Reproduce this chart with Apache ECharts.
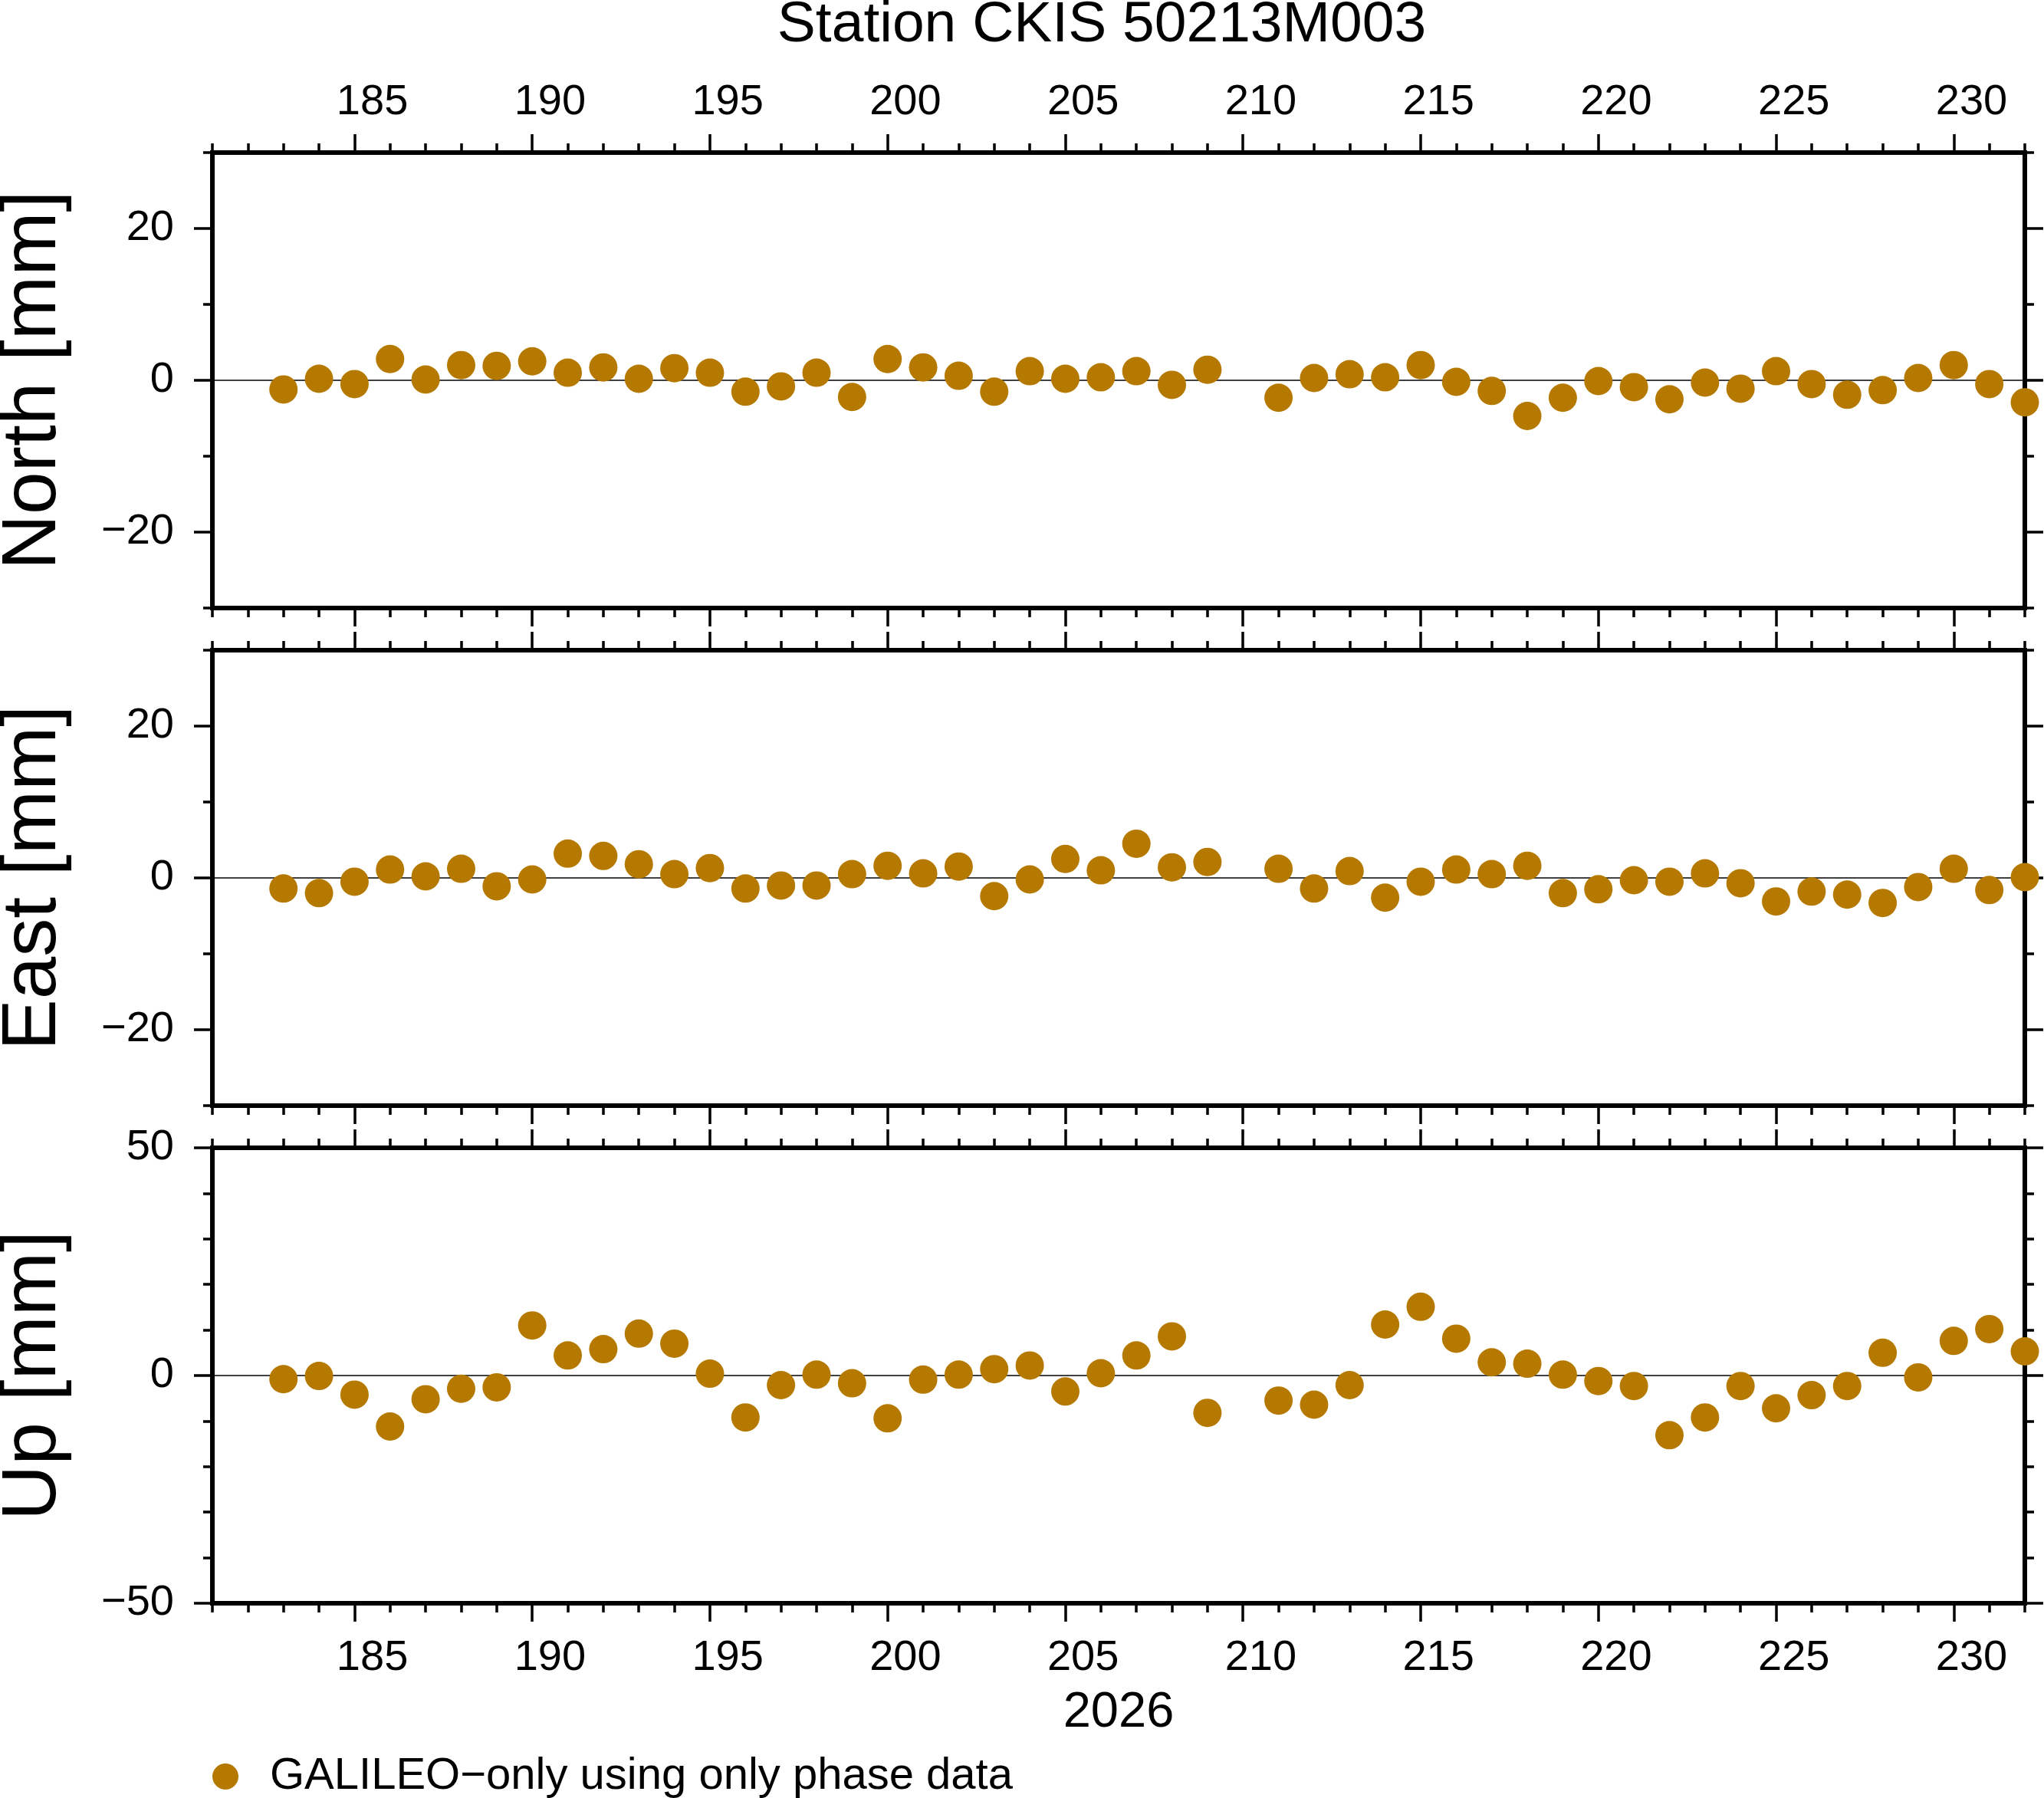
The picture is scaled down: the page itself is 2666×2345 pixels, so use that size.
<!DOCTYPE html>
<html>
<head>
    <meta charset="utf-8">
    <title>Station CKIS 50213M003</title>
    <style>
        html, body { margin: 0; padding: 0; background: #fff; }
        #chart { width: 2666px; height: 2345px; }
    </style>
</head>
<body>
<div id="chart"></div>
<script src="https://cdn.jsdelivr.net/npm/echarts@6/dist/echarts.min.js"></script>
<script type="text/javascript">
    // day of year 2026 (day 210 has no solution)
    var days = [183, 184, 185, 186, 187, 188, 189, 190, 191, 192, 193, 194, 195, 196, 197, 198, 199, 200,
        201, 202, 203, 204, 205, 206, 207, 208, 209, 211, 212, 213, 214, 215, 216, 217, 218, 219, 220,
        221, 222, 223, 224, 225, 226, 227, 228, 229, 230, 231, 232];
    var north = [-1.2, 0.2, -0.5, 2.8, 0.1, 2.0, 1.9, 2.5, 1.0, 1.7, 0.2, 1.6, 1.0, -1.5, -0.8, 1.0, -2.2, 2.8,
        1.7, 0.6, -1.5, 1.2, 0.2, 0.4, 1.2, -0.6, 1.4, -2.3, 0.3, 0.8, 0.4, 2.0, -0.2, -1.4, -4.7, -2.3, -0.1,
        -0.9, -2.5, -0.3, -1.1, 1.2, -0.5, -1.9, -1.3, 0.3, 2.0, -0.5, -2.9];
    var east = [-1.4, -2.0, -0.5, 1.1, 0.2, 1.2, -1.1, -0.2, 3.2, 2.9, 1.8, 0.5, 1.3, -1.4, -1.0, -1.0, 0.5, 1.6,
        0.6, 1.5, -2.4, -0.2, 2.5, 1.0, 4.5, 1.4, 2.1, 1.2, -1.4, 0.9, -2.6, -0.5, 1.1, 0.5, 1.6, -2.0, -1.5,
        -0.3, -0.5, 0.6, -0.7, -3.1, -1.8, -2.2, -3.3, -1.2, 1.2, -1.6, 0.1];
    var up = [-0.8, -0.1, -4.2, -11.2, -5.2, -2.9, -2.6, 11.0, 4.4, 5.8, 9.2, 7.0, 0.4, -9.2, -2.1, 0.2, -1.7, -9.4,
        -0.9, 0.2, 1.4, 2.2, -3.5, 0.5, 4.4, 8.6, -8.2, -5.5, -6.4, -2.1, 11.2, 15.1, 8.1, 2.9, 2.6, 0.2, -1.2,
        -2.3, -13.1, -9.2, -2.3, -7.2, -4.3, -2.3, 5.0, -0.4, 7.6, 10.2, 5.3];

    var seriesName = 'GALILEO\u2212only using only phase data';
    var titleText = 'Station CKIS 50213M003';
    var yearText = '2026';
    var panelNames = ['North [mm]', 'East [mm]', 'Up [mm]'];
    var panelData = [north, east, up];
    var yRange = [[-30, 30], [-30, 30], [-50, 50]];
    var yMajor = [[-20, 0, 20], [-20, 0, 20], [-50, 0, 50]];
    var yMinor = [[-30, -10, 10, 30], [-30, -10, 10, 30], [-40, -30, -20, -10, 10, 20, 30, 40]];
    var xRange = [181, 232];
    var xMajor = [185, 190, 195, 200, 205, 210, 215, 220, 225, 230];
    var xMinor = [];
    for (var d = xRange[0]; d <= xRange[1]; d++) { if (d % 5 !== 0) xMinor.push(d); }

    var font = 'Liberation Sans, Arial, Helvetica, sans-serif';
    var dotColor = '#b57900';
    var gridTops = [199, 848, 1497];
    var gridHeight = 594;

    function minus(v) { return String(v).replace('-', '\u2212'); }

    var grids = [], xAxes = [], yAxes = [], series = [];
    for (var i = 0; i < 3; i++) {
        grids.push({
            left: 277, right: 25, top: gridTops[i], height: gridHeight,
            show: true, borderColor: '#000', borderWidth: 6, backgroundColor: 'transparent',
            containLabel: false, outerBoundsMode: 'none'
        });
        ['bottom', 'top'].forEach(function (pos) {
            var withLabel = (pos === 'top' && i === 0) || (pos === 'bottom' && i === 2);
            // long ticks every 5 days, labels centred on the day
            xAxes.push({
                gridIndex: i, type: 'value', position: pos, min: xRange[0], max: xRange[1],
                axisLine: {show: false, onZero: false},
                axisTick: {show: true, customValues: xMajor, length: 24, lineStyle: {color: '#000', width: 3.5}},
                axisLabel: {
                    show: withLabel, customValues: xMajor.map(function (v) { return v + 0.5; }),
                    formatter: function (v) { return String(Math.floor(v)); },
                    margin: pos === 'top' ? 37 : 44, fontSize: 56, color: '#000', fontFamily: font
                },
                splitLine: {show: false},
                name: (pos === 'bottom' && i === 2) ? yearText : '',
                nameLocation: 'middle', nameGap: 111,
                nameTextStyle: {fontSize: 65, color: '#000', fontFamily: font}
            });
            // short ticks every day
            xAxes.push({
                gridIndex: i, type: 'value', position: pos, min: xRange[0], max: xRange[1],
                axisLine: {show: false, onZero: false},
                axisTick: {show: true, customValues: xMinor, length: 12, lineStyle: {color: '#000', width: 3.5}},
                axisLabel: {show: false},
                splitLine: {show: false}
            });
        });
        ['left', 'right'].forEach(function (pos) {
            yAxes.push({
                gridIndex: i, type: 'value', position: pos,
                min: yRange[i][0], max: yRange[i][1],
                axisLine: {show: false, onZero: false},
                axisTick: {show: true, customValues: yMajor[i], length: 24, lineStyle: {color: '#000', width: 3.5}},
                axisLabel: {
                    show: pos === 'left', customValues: yMajor[i], formatter: minus,
                    margin: 50, fontSize: 56, color: '#000', fontFamily: font
                },
                splitLine: {show: false},
                name: pos === 'left' ? panelNames[i] : '',
                nameLocation: 'middle', nameRotate: 90, nameGap: 183,
                nameTextStyle: {fontSize: 100, color: '#000', fontFamily: font}
            });
            yAxes.push({
                gridIndex: i, type: 'value', position: pos,
                min: yRange[i][0], max: yRange[i][1],
                axisLine: {show: false, onZero: false},
                axisTick: {show: true, customValues: yMinor[i], length: 12, lineStyle: {color: '#000', width: 3.5}},
                axisLabel: {show: false},
                splitLine: {show: false}
            });
        });
        // zero line only
        yAxes.push({
            gridIndex: i, type: 'value', position: 'left',
            min: yRange[i][0], max: yRange[i][1], interval: yRange[i][1],
            axisLine: {show: false, onZero: false},
            axisTick: {show: false, customValues: [0]},
            axisLabel: {show: false, customValues: [0]},
            splitLine: {show: true, lineStyle: {color: '#000', width: 1.5}}
        });
        series.push({
            name: seriesName, type: 'scatter',
            xAxisIndex: i * 4, yAxisIndex: i * 5,
            symbol: 'circle', symbolSize: 37, clip: false,
            itemStyle: {color: dotColor, opacity: 1},
            data: days.map(function (day, k) { return [day, panelData[i][k]]; })
        });
    }

    var myChart = echarts.init(document.getElementById('chart'));
    myChart.setOption({
        backgroundColor: '#fff',
        animation: false,
        title: {
            text: titleText, left: 1437, top: -4, padding: 0, textAlign: 'center',
            textStyle: {fontSize: 75, fontWeight: 'normal', color: '#000', fontFamily: font}
        },
        legend: {
            data: [{name: seriesName, icon: 'circle'}],
            left: 277, top: 2288, padding: 0,
            itemWidth: 34, itemHeight: 34,
            textStyle: {fontSize: 58, color: '#000', fontFamily: font, padding: [0, 0, 0, 36]}
        },
        grid: grids,
        xAxis: xAxes,
        yAxis: yAxes,
        series: series
    });
</script>
</body>
</html>
